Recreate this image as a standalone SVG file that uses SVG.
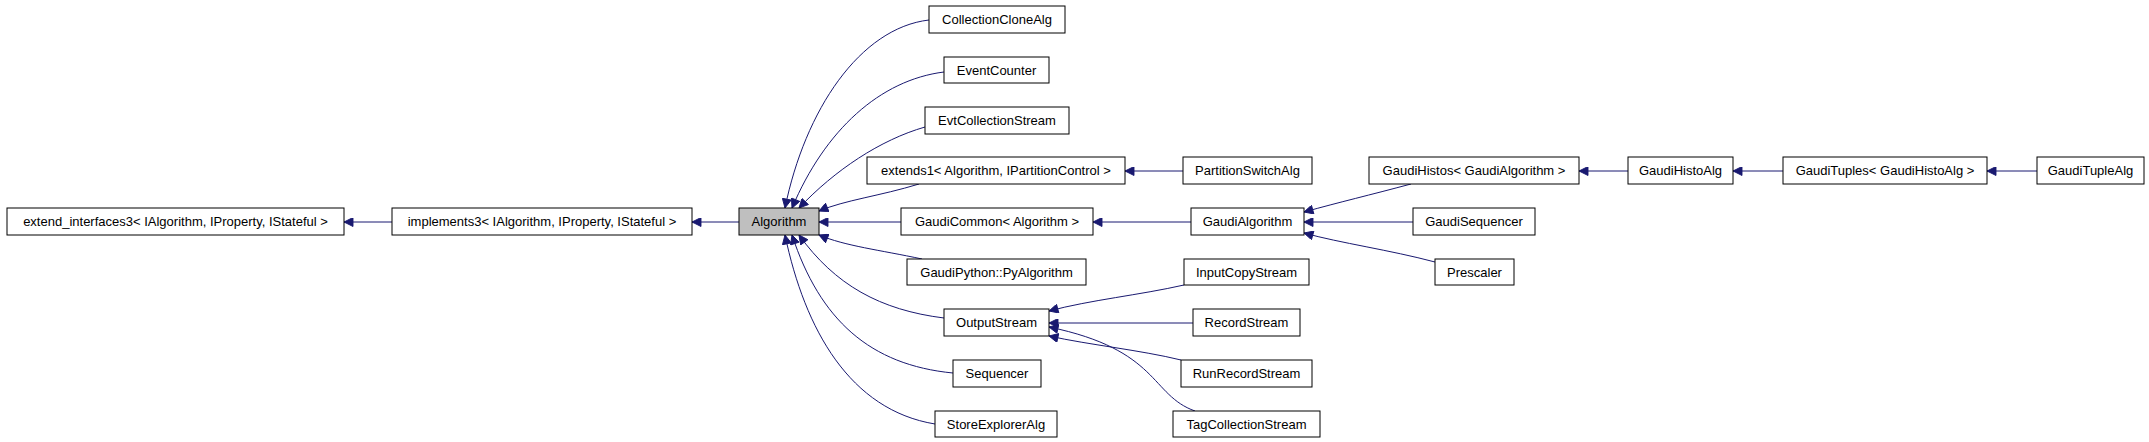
<svg xmlns="http://www.w3.org/2000/svg" width="2149" height="442" viewBox="0 0 2149 442">
<style>
rect{fill:#fff;stroke:#000;stroke-width:1}
rect.hl{fill:#bfbfbf}
text{font-family:"Liberation Sans",Arial,sans-serif;font-size:13px;text-anchor:middle;fill:#000}
#edges path{fill:none;stroke:#191970;stroke-width:1;marker-end:url(#ah)}
</style>
<defs>
<marker id="ah" viewBox="0 0 10 10" refX="10" refY="5" markerWidth="11" markerHeight="9" markerUnits="userSpaceOnUse" orient="auto">
<path d="M0,0 L10,5 L0,10 z" fill="#191970" stroke="#191970"/>
</marker>
</defs>
<rect width="2149" height="442" style="fill:#fff;stroke:none"/>
<g id="edges">
<path d="M392,222 L344,222"/>
<path d="M739,222 L692,222"/>
<path d="M929,20 C860,28 805,110 785,208"/>
<path d="M944,72 C880,80 825,130 792,208"/>
<path d="M925,127 C880,140 835,170 799,208"/>
<path d="M919,184 C880,196 845,200 819,211"/>
<path d="M901,222 L819,222"/>
<path d="M922,259 C880,250 845,246 819,235"/>
<path d="M944,318 C880,310 835,285 799,235"/>
<path d="M953,373 C870,365 820,320 792,235"/>
<path d="M935,424 C850,410 805,330 785,235"/>
<path d="M1183,171 L1125,171"/>
<path d="M1191,222 L1093,222"/>
<path d="M1411,184 C1370,195 1340,202 1304,212"/>
<path d="M1413,222 L1304,222"/>
<path d="M1435,262 C1390,250 1340,243 1304,233"/>
<path d="M1628,171 L1579,171"/>
<path d="M1783,171 L1733,171"/>
<path d="M2037,171 L1987,171"/>
<path d="M1184,285 C1140,295 1090,300 1049,311"/>
<path d="M1193,323 L1049,323"/>
<path d="M1181,360 C1140,350 1090,345 1049,336"/>
<path d="M1195,411 C1150,395 1160,350 1049,327"/>
</g>
<g id="extend_interfaces3"><rect x="7" y="208" width="337" height="27"/><text x="175.5" y="226">extend_interfaces3&lt; IAlgorithm, IProperty, IStateful &gt;</text></g>
<g id="implements3"><rect x="392" y="208" width="300" height="27"/><text x="542" y="226">implements3&lt; IAlgorithm, IProperty, IStateful &gt;</text></g>
<g id="Algorithm"><rect class="hl" x="739" y="208" width="80" height="27"/><text x="779" y="226">Algorithm</text></g>
<g id="CollectionCloneAlg"><rect x="929" y="6" width="136" height="27"/><text x="997" y="24">CollectionCloneAlg</text></g>
<g id="EventCounter"><rect x="944" y="57" width="105" height="26"/><text x="996.5" y="75">EventCounter</text></g>
<g id="EvtCollectionStream"><rect x="925" y="107" width="144" height="27"/><text x="997" y="125">EvtCollectionStream</text></g>
<g id="extends1"><rect x="867" y="157" width="258" height="27"/><text x="996" y="175">extends1&lt; Algorithm, IPartitionControl &gt;</text></g>
<g id="GaudiCommon"><rect x="901" y="208" width="192" height="27"/><text x="997" y="226">GaudiCommon&lt; Algorithm &gt;</text></g>
<g id="PyAlgorithm"><rect x="907" y="259" width="179" height="26"/><text x="996.5" y="277">GaudiPython::PyAlgorithm</text></g>
<g id="OutputStream"><rect x="944" y="309" width="105" height="27"/><text x="996.5" y="327">OutputStream</text></g>
<g id="Sequencer"><rect x="953" y="360" width="88" height="27"/><text x="997" y="378">Sequencer</text></g>
<g id="StoreExplorerAlg"><rect x="935" y="411" width="122" height="26"/><text x="996" y="429">StoreExplorerAlg</text></g>
<g id="PartitionSwitchAlg"><rect x="1183" y="157" width="129" height="27"/><text x="1247.5" y="175">PartitionSwitchAlg</text></g>
<g id="GaudiAlgorithm"><rect x="1191" y="208" width="113" height="27"/><text x="1247.5" y="226">GaudiAlgorithm</text></g>
<g id="InputCopyStream"><rect x="1184" y="259" width="125" height="26"/><text x="1246.5" y="277">InputCopyStream</text></g>
<g id="RecordStream"><rect x="1193" y="309" width="107" height="27"/><text x="1246.5" y="327">RecordStream</text></g>
<g id="RunRecordStream"><rect x="1181" y="360" width="131" height="27"/><text x="1246.5" y="378">RunRecordStream</text></g>
<g id="TagCollectionStream"><rect x="1173" y="411" width="147" height="26"/><text x="1246.5" y="429">TagCollectionStream</text></g>
<g id="GaudiHistos"><rect x="1369" y="157" width="210" height="27"/><text x="1474" y="175">GaudiHistos&lt; GaudiAlgorithm &gt;</text></g>
<g id="GaudiSequencer"><rect x="1413" y="208" width="122" height="27"/><text x="1474" y="226">GaudiSequencer</text></g>
<g id="Prescaler"><rect x="1435" y="259" width="79" height="26"/><text x="1474.5" y="277">Prescaler</text></g>
<g id="GaudiHistoAlg"><rect x="1628" y="157" width="105" height="27"/><text x="1680.5" y="175">GaudiHistoAlg</text></g>
<g id="GaudiTuples"><rect x="1783" y="157" width="204" height="27"/><text x="1885" y="175">GaudiTuples&lt; GaudiHistoAlg &gt;</text></g>
<g id="GaudiTupleAlg"><rect x="2037" y="157" width="107" height="27"/><text x="2090.5" y="175">GaudiTupleAlg</text></g>
</svg>
